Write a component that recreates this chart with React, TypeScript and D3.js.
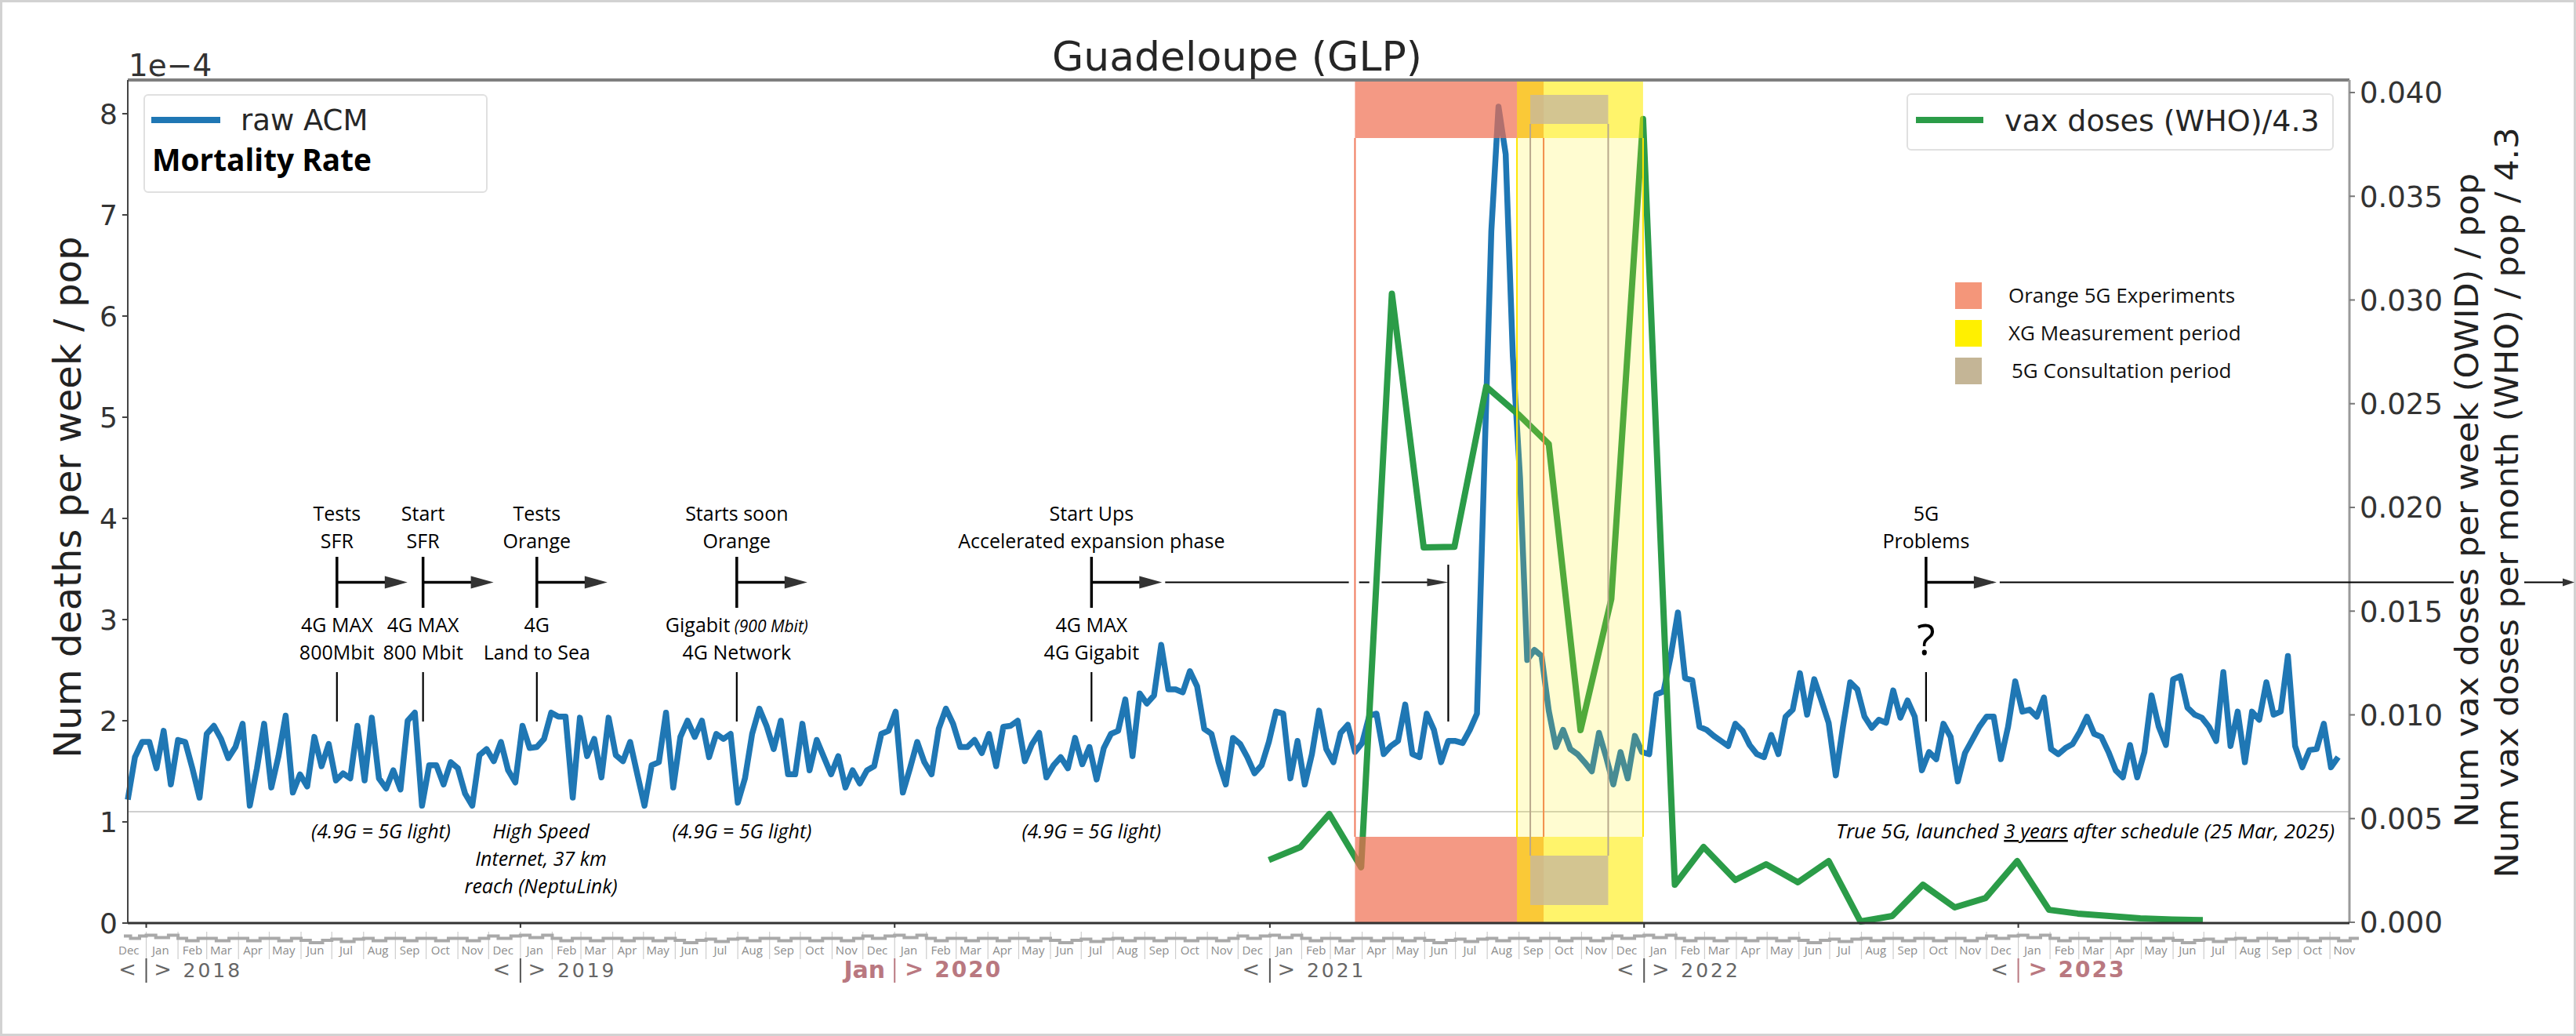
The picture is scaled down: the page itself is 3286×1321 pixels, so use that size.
import React, { useEffect, useRef } from 'react';
import * as d3 from 'd3';

const W = 3286;
const H = 1321;

// weekly all-cause mortality (deaths per week / pop), in units of 1e-4
const acmStart = '2017-12-14';
const acmWeekly = [
  1.22, 1.64, 1.79, 1.79, 1.53, 1.9, 1.37, 1.81, 1.79, 1.53,
  1.24, 1.87, 1.95, 1.82, 1.63, 1.74, 1.97, 1.16, 1.53, 1.97,
  1.34, 1.65, 2.05, 1.29, 1.47, 1.35, 1.84, 1.55, 1.77, 1.41,
  1.48, 1.43, 1.95, 1.41, 2.03, 1.43, 1.33, 1.51, 1.32, 2.0,
  2.08, 1.16, 1.56, 1.56, 1.37, 1.59, 1.53, 1.28, 1.16, 1.66,
  1.72, 1.6, 1.79, 1.51, 1.39, 1.95, 1.73, 1.74, 1.82, 2.08,
  2.04, 2.04, 1.24, 2.03, 1.65, 1.82, 1.44, 2.03, 1.66, 1.6,
  1.79, 1.47, 1.16, 1.56, 1.59, 2.08, 1.34, 1.84, 2.0, 1.84,
  2.0, 1.64,
  1.87, 1.82, 1.87, 1.19, 1.43, 1.87, 2.12, 1.95, 1.72, 2.0,
  1.47, 1.47, 1.97, 1.51, 1.81, 1.64, 1.47, 1.65, 1.34, 1.51,
  1.38, 1.51, 1.55, 1.87, 1.9, 2.09, 1.29, 1.53, 1.79, 1.59,
  1.47, 1.92, 2.12, 1.97, 1.74, 1.74, 1.81, 1.68, 1.87, 1.55,
  1.94, 1.95, 2.0, 1.6, 1.77, 1.88, 1.44, 1.56, 1.64, 1.53,
  1.83, 1.57, 1.74, 1.42, 1.73, 1.87, 1.9, 2.21, 1.65, 2.27,
  2.17, 2.25, 2.75, 2.31, 2.31, 2.28, 2.49, 2.34, 1.92, 1.87,
  1.59, 1.37, 1.83, 1.77, 1.64, 1.48, 1.56, 1.79, 2.09,
  2.07, 1.43, 1.8, 1.37, 1.67, 2.1, 1.72, 1.59, 1.88, 1.96,
  1.69, 1.78, 2.05, 2.07, 1.67, 1.75, 1.8, 2.16, 1.67, 1.64,
  2.07, 1.91, 1.59, 1.8, 1.8, 1.78, 1.91, 2.07, 4.47, 6.84,
  8.07, 7.6, 5.6, 4.4, 2.6, 2.7, 2.64, 2.1, 1.74, 1.91,
  1.72, 1.67, 1.59, 1.5, 1.88, 1.64, 1.37, 1.69, 1.43, 1.85,
  1.69, 1.67, 2.26, 2.29, 2.64, 3.07, 2.42, 2.4, 1.94, 1.91,
  1.85, 1.8,
  1.75, 1.97, 1.9, 1.76, 1.67, 1.64, 1.86, 1.67, 2.04, 2.11,
  2.47, 2.06, 2.41, 2.2, 1.98, 1.46, 1.94, 2.38, 2.31, 2.04,
  1.93, 2.01, 1.98, 2.3, 2.03, 2.2, 2.04, 1.51, 1.69, 1.62,
  1.97, 1.84, 1.4, 1.68, 1.81, 1.94, 2.04, 2.04, 1.62, 1.94,
  2.39, 2.09, 2.11, 2.04, 2.23, 1.72, 1.67, 1.73, 1.77, 1.89,
  2.04, 1.87, 1.84, 1.69, 1.51, 1.44, 1.76, 1.44, 1.69, 2.25,
  1.94, 1.76, 2.41, 2.44, 2.13, 2.06, 2.03, 1.94, 1.8, 2.48,
  1.75, 2.09, 1.59, 2.09, 2.01, 2.38, 2.06, 2.09, 2.64, 1.75,
  1.54, 1.71, 1.72, 1.97, 1.54, 1.64,
];

// monthly vax doses (WHO) / pop / 4.3
const vaxDates = [
  '2020-12-31', '2021-01-31', '2021-02-28', '2021-03-31', '2021-04-30', '2021-05-31',
  '2021-06-30', '2021-07-31', '2021-08-31', '2021-09-30', '2021-10-31', '2021-11-30',
  '2021-12-31', '2022-01-31', '2022-02-28', '2022-03-31', '2022-04-30', '2022-05-31',
  '2022-06-30', '2022-07-31', '2022-08-31', '2022-09-30', '2022-10-31', '2022-11-30',
  '2022-12-31', '2023-01-31', '2023-02-28', '2023-03-31', '2023-04-30', '2023-05-31',
  '2023-06-30',
];
const vaxValues = [
  0.003, 0.00363, 0.00522, 0.00265, 0.0303, 0.01807,
  0.0181, 0.02582, 0.0245, 0.02306, 0.00926, 0.01558,
  0.03872, 0.00181, 0.00363, 0.00204, 0.0028, 0.00193,
  0.00295, 0.00004, 0.0003, 0.00181, 0.00072, 0.00117,
  0.00295, 0.0006, 0.00042, 0.0003, 0.00019, 0.00013,
  0.0001,
];

const bandNames = ['Orange 5G Experiments', 'XG Measurement period', '5G Consultation period'];
const bandStarts = ['2021-03-25', '2021-08-30', '2021-09-12'];
const bandEnds = ['2021-09-25', '2021-12-31', '2021-11-27'];

const leftTicks = [0, 1, 2, 3, 4, 5, 6, 7, 8];
const rightTicks = [0, 0.005, 0.01, 0.015, 0.02, 0.025, 0.03, 0.035, 0.04];

const eventDates = ['2018-07-06', '2018-09-28', '2019-01-17', '2019-07-31', '2020-07-11', '2022-10-03'];
const eventAbove = [
  ['Tests', 'SFR'],
  ['Start', 'SFR'],
  ['Tests', 'Orange'],
  ['Starts soon', 'Orange'],
  ['Start Ups', 'Accelerated expansion phase'],
  ['5G', 'Problems'],
];
const eventBelow = [
  ['4G MAX', '800Mbit'],
  ['4G MAX', '800 Mbit'],
  ['4G', 'Land to Sea'],
  ['Gigabit', '4G Network'],
  ['4G MAX', '4G Gigabit'],
  ['?'],
];
const rampEnd = '2021-06-24';
const rampGaps = [
  ['2021-03-19', '2021-03-29'],
  ['2021-04-08', '2021-04-20'],
];

const noteDates = ['2018-08-18', '2019-01-21', '2019-08-05', '2020-07-11'];
const noteLines = [
  ['(4.9G = 5G light)'],
  ['High Speed', 'Internet, 37 km', 'reach (NeptuLink)'],
  ['(4.9G = 5G light)'],
  ['(4.9G = 5G light)'],
];

const years = [2018, 2019, 2020, 2021, 2022, 2023];
const seasonShift = [-4, 0, 0, 0, 0, 2.5, 1, 0, 0, 0, 0, -3];

export default function App() {
  const svgRef = useRef<SVGSVGElement>(null);

  useEffect(() => {
    document.body.style.margin = '0';
    if (!svgRef.current) return;
    const svg = d3.select(svgRef.current);
    svg.selectAll('*').remove();

    const parse = d3.timeParse('%Y-%m-%d');
    const left = 163;
    const right = 2997;
    const top = 102;
    const bottom = 1177;

    const x = d3
      .scaleTime()
      .domain([parse('2017-12-14') as Date, parse('2023-11-20') as Date])
      .range([left, right]);
    const yL = d3.scaleLinear().domain([0, 8]).range([1177, 145]);
    const yR = d3.scaleLinear().domain([0, 0.04]).range([1176, 118]);
    const xd = (s: string) => x(parse(s) as Date);

    const sans = "'Open Sans', 'Noto Sans', sans-serif";
    const dv = "'DejaVu Sans', sans-serif";

    // outer frame
    svg.append('rect').attr('x', 1.5).attr('y', 1.5).attr('width', W - 3).attr('height', H - 3)
      .attr('fill', '#fff').attr('stroke', '#d2d2d2').attr('stroke-width', 3);

    // light reference line
    svg.append('line').attr('x1', left).attr('x2', right).attr('y1', yL(1.1)).attr('y2', yL(1.1))
      .attr('stroke', '#cfcfcf').attr('stroke-width', 2);

    // ACM line
    const start = parse(acmStart) as Date;
    const acm = acmWeekly.map((v, i) => ({ d: d3.timeDay.offset(start, 7 * i), v }));
    svg.append('path')
      .attr('d', d3.line<{ d: Date; v: number }>().x((p) => x(p.d)).y((p) => yL(p.v))(acm))
      .attr('fill', 'none').attr('stroke', '#1f77b4').attr('stroke-width', 7.5)
      .attr('stroke-linejoin', 'round');

    // vax line
    const vax = vaxDates.map((d, i) => ({ d: parse(d) as Date, v: vaxValues[i] }));
    svg.append('path')
      .attr('d', d3.line<{ d: Date; v: number }>().x((p) => x(p.d)).y((p) => yR(p.v))(vax))
      .attr('fill', 'none').attr('stroke', '#2b9c48').attr('stroke-width', 8)
      .attr('stroke-linejoin', 'round');

    // period bands (strips at top and bottom, outlined in between)
    const bandFill = ['rgb(240,110,80)', 'rgb(255,236,0)', 'rgb(200,185,155)'];
    const bandOpacity = [0.7, 0.58, 0.8];
    const bandMid = [0, 0.18, 0];
    const bandEdge = ['#f07a5c', '#ffe600', '#b9a88c'];
    const stripTop = [[102, 176], [102, 176], [121, 158]];
    const stripBot = [[1067, 1177], [1067, 1177], [1091, 1154]];
    bandNames.forEach((_, i) => {
      const x0 = xd(bandStarts[i]);
      const x1 = xd(bandEnds[i]);
      [stripTop[i], stripBot[i]].forEach(([a, b]) => {
        svg.append('rect').attr('x', x0).attr('y', a).attr('width', x1 - x0).attr('height', b - a)
          .attr('fill', bandFill[i]).attr('opacity', bandOpacity[i]);
      });
      if (bandMid[i] > 0) {
        svg.append('rect').attr('x', x0).attr('y', stripTop[i][1]).attr('width', x1 - x0)
          .attr('height', stripBot[i][0] - stripTop[i][1])
          .attr('fill', bandFill[i]).attr('opacity', bandMid[i]);
      }
      [x0, x1].forEach((xx) => {
        svg.append('line').attr('x1', xx).attr('x2', xx).attr('y1', stripTop[i][1]).attr('y2', stripBot[i][0])
          .attr('stroke', bandEdge[i]).attr('stroke-width', 2);
      });
    });

    // spines
    svg.append('line').attr('x1', left).attr('x2', right).attr('y1', top).attr('y2', top)
      .attr('stroke', '#7f7f7f').attr('stroke-width', 4);
    svg.append('line').attr('x1', left).attr('x2', left).attr('y1', top).attr('y2', bottom)
      .attr('stroke', '#444').attr('stroke-width', 2);
    svg.append('line').attr('x1', right).attr('x2', right).attr('y1', top).attr('y2', bottom)
      .attr('stroke', '#9a9a9a').attr('stroke-width', 3);
    svg.append('line').attr('x1', left).attr('x2', right).attr('y1', bottom).attr('y2', bottom)
      .attr('stroke', '#333').attr('stroke-width', 3);

    // left axis
    leftTicks.forEach((t) => {
      svg.append('line').attr('x1', left - 7).attr('x2', left).attr('y1', yL(t)).attr('y2', yL(t))
        .attr('stroke', '#444').attr('stroke-width', 2);
      svg.append('text').attr('x', 150).attr('y', yL(t)).attr('dy', '0.36em').attr('text-anchor', 'end')
        .style('font-family', dv).style('font-size', '36px').attr('fill', '#333').text(String(t));
    });
    svg.append('text').attr('x', 164).attr('y', 97).style('font-family', dv).style('font-size', '39px')
      .attr('fill', '#333').text('1e\u22124');
    svg.append('text').attr('transform', 'translate(103,634) rotate(-90)').attr('text-anchor', 'middle')
      .style('font-family', dv).style('font-size', '48px').attr('fill', '#222')
      .text('Num deaths per week / pop');

    // right axis
    rightTicks.forEach((t) => {
      svg.append('line').attr('x1', right).attr('x2', right + 7).attr('y1', yR(t)).attr('y2', yR(t))
        .attr('stroke', '#777').attr('stroke-width', 2);
      svg.append('text').attr('x', 3010).attr('y', yR(t)).attr('dy', '0.36em')
        .style('font-family', dv).style('font-size', '37px').attr('fill', '#333').text(d3.format('.3f')(t));
    });
    const rightTitles = ['Num vax doses per week (OWID) / pop', 'Num vax doses per month (WHO) / pop / 4.3'];
    const rightTitleX = [3161, 3212];
    const rightTitleY = [638, 641];
    const rightTitleLen = [834, 957];
    rightTitles.forEach((t, i) => {
      svg.append('text').attr('transform', `translate(${rightTitleX[i]},${rightTitleY[i]}) rotate(-90)`)
        .attr('text-anchor', 'middle').attr('textLength', rightTitleLen[i]).attr('lengthAdjust', 'spacingAndGlyphs')
        .style('font-family', dv).style('font-size', '41px').attr('fill', '#222').text(t);
    });

    // title
    svg.append('text').attr('x', 1578).attr('y', 90).attr('text-anchor', 'middle')
      .style('font-family', dv).style('font-size', '52px').attr('fill', '#262626').text('Guadeloupe (GLP)');

    // bottom calendar ruler
    const months = d3.timeMonth.range(new Date(2017, 11, 1), new Date(2023, 11, 1));
    let ruler = '';
    months.forEach((m, i) => {
      const a = Math.max(x(m), left - 5);
      const b = Math.min(x(d3.timeMonth.offset(m, 1)), right + 12);
      const lv = 1196.5 + seasonShift[m.getMonth()];
      const q1 = a + (b - a) * 0.3;
      const q2 = a + (b - a) * 0.7;
      ruler += `${i === 0 ? 'M' : 'L'}${a},${lv}H${q1}V${lv + 3}H${q2}V${lv}H${b}`;
      const mid = x(d3.timeDay.offset(m, 14));
      svg.append('text').attr('x', mid).attr('y', 1217).attr('text-anchor', 'middle')
        .style('font-family', sans).style('font-size', '15px').attr('fill', '#8c8c8c')
        .text(d3.timeFormat('%b')(m));
      if (x(m) > left && x(m) < right + 5) {
        svg.append('line').attr('x1', x(m)).attr('x2', x(m)).attr('y1', 1188).attr('y2', 1223)
          .attr('stroke', '#cdcdcd').attr('stroke-width', 1.2);
      }
    });
    svg.append('path').attr('d', ruler).attr('fill', 'none').attr('stroke', '#a9a9a9').attr('stroke-width', 4);

    const rose = '#b97880';
    years.forEach((yr) => {
      const sx = x(new Date(yr, 0, 1));
      const hot = yr === 2020 || yr === 2023;
      svg.append('line').attr('x1', sx).attr('x2', sx).attr('y1', bottom).attr('y2', bottom + 6)
        .attr('stroke', '#333').attr('stroke-width', 2);
      svg.append('line').attr('x1', sx).attr('x2', sx).attr('y1', 1222).attr('y2', 1253)
        .attr('stroke', hot ? rose : '#555').attr('stroke-width', 2);
      if (yr === 2020) {
        svg.append('text').attr('x', sx - 12).attr('y', 1247).attr('text-anchor', 'end')
          .style('font-family', dv).style('font-size', '30px').style('font-weight', 'bold')
          .attr('fill', rose).text('Jan');
      } else {
        svg.append('text').attr('x', sx - 24).attr('y', 1245).attr('text-anchor', 'middle')
          .style('font-family', dv).style('font-size', '27px').attr('fill', '#666').text('<');
      }
      svg.append('text').attr('x', sx + (hot ? 25 : 21)).attr('y', 1245).attr('text-anchor', 'middle')
        .style('font-family', dv).style('font-size', hot ? '29px' : '27px')
        .style('font-weight', hot ? 'bold' : 'normal').attr('fill', hot ? rose : '#666').text('>');
      svg.append('text').attr('x', sx + (hot ? 51 : 47)).attr('y', 1246)
        .style('font-family', dv).style('font-size', hot ? '28px' : '25px')
        .style('font-weight', hot ? 'bold' : 'normal').style('letter-spacing', hot ? '2px' : '3px')
        .attr('fill', hot ? rose : '#666').text(String(yr));
    });

    // legends
    svg.append('rect').attr('x', 184).attr('y', 121).attr('width', 437).attr('height', 124).attr('rx', 5)
      .attr('fill', 'rgba(255,255,255,0.85)').attr('stroke', '#e0e0e0').attr('stroke-width', 2);
    svg.append('line').attr('x1', 193).attr('x2', 281).attr('y1', 153).attr('y2', 153)
      .attr('stroke', '#1f77b4').attr('stroke-width', 8);
    svg.append('text').attr('x', 307).attr('y', 166).style('font-family', dv).style('font-size', '37px')
      .attr('fill', '#262626').text('raw ACM');
    svg.append('text').attr('x', 194).attr('y', 218).attr('textLength', 280).attr('lengthAdjust', 'spacingAndGlyphs')
      .style('font-family', sans).style('font-size', '40px').style('font-weight', 'bold')
      .attr('fill', '#000').text('Mortality Rate');

    svg.append('rect').attr('x', 2433).attr('y', 120).attr('width', 543).attr('height', 71).attr('rx', 5)
      .attr('fill', 'rgba(255,255,255,0.85)').attr('stroke', '#e0e0e0').attr('stroke-width', 2);
    svg.append('line').attr('x1', 2444).attr('x2', 2530).attr('y1', 153).attr('y2', 153)
      .attr('stroke', '#2b9c48').attr('stroke-width', 8);
    svg.append('text').attr('x', 2557).attr('y', 167).style('font-family', dv).style('font-size', '38px')
      .attr('fill', '#262626').text('vax doses (WHO)/4.3');

    const swatch = ['#f4967a', '#fff000', '#c4b596'];
    bandNames.forEach((n, i) => {
      const cy = 377 + 48 * i;
      svg.append('rect').attr('x', 2494).attr('y', cy - 17).attr('width', 34).attr('height', 34).attr('fill', swatch[i]);
      svg.append('text').attr('x', i === 2 ? 2566 : 2562).attr('y', cy + 9).style('font-family', sans)
        .style('font-size', '26px').attr('fill', '#111').text(n);
    });

    // event annotations
    const head = (xTip: number, yy: number, len: number, half: number) =>
      svg.append('path').attr('d', `M${xTip - len},${yy - half}L${xTip},${yy}L${xTip - len},${yy + half}Z`)
        .attr('fill', '#333');
    const ay = 742.5;
    eventDates.forEach((ds, i) => {
      const ex = xd(ds);
      eventAbove[i].forEach((t, j) => {
        svg.append('text').attr('x', ex).attr('y', 664 + 35 * j).attr('text-anchor', 'middle')
          .style('font-family', sans).style('font-size', '25px').attr('fill', '#000').text(t);
      });
      svg.append('line').attr('x1', ex).attr('x2', ex).attr('y1', 710).attr('y2', 775)
        .attr('stroke', '#000').attr('stroke-width', 3.5);
      svg.append('line').attr('x1', ex).attr('x2', ex + 63).attr('y1', ay).attr('y2', ay)
        .attr('stroke', '#000').attr('stroke-width', 3.5);
      head(ex + 90, ay, 29, 8);
      const below = eventBelow[i];
      below.forEach((t, j) => {
        const tx = svg.append('text').attr('x', ex).attr('text-anchor', 'middle')
          .style('font-family', sans).attr('fill', '#000');
        if (t === '?') {
          tx.attr('y', 835).style('font-size', '54px').text(t);
        } else {
          tx.attr('y', 806 + 35 * j).style('font-size', '25px').text(t);
          if (i === 3 && j === 0) {
            tx.append('tspan').style('font-style', 'italic').style('font-size', '21px').text(' (900 Mbit)');
          }
        }
      });
      svg.append('line').attr('x1', ex).attr('x2', ex).attr('y1', 857).attr('y2', 920)
        .attr('stroke', '#000').attr('stroke-width', 2.2);
    });

    // long arrows
    const thin = (a: number, b: number) =>
      svg.append('line').attr('x1', a).attr('x2', b).attr('y1', ay).attr('y2', ay)
        .attr('stroke', '#000').attr('stroke-width', 2);
    const e5 = xd(eventDates[4]);
    const endX = xd(rampEnd);
    const cuts = [e5 + 94, ...rampGaps.flatMap(([a, b]) => [xd(a), xd(b)]), endX - 26];
    for (let k = 0; k < cuts.length; k += 2) thin(cuts[k], cuts[k + 1]);
    head(endX, ay, 27, 5);
    svg.append('line').attr('x1', endX).attr('x2', endX).attr('y1', 720).attr('y2', 920)
      .attr('stroke', '#000').attr('stroke-width', 2.2);
    const e6 = xd(eventDates[5]);
    thin(e6 + 94, 3130);
    thin(3220, 3271);
    head(3284, ay, 15, 5);

    // notes below the reference line
    noteDates.forEach((ds, i) => {
      const nx = xd(ds);
      noteLines[i].forEach((t, j) => {
        svg.append('text').attr('x', nx).attr('y', 1069 + 35 * j).attr('text-anchor', 'middle')
          .style('font-family', sans).style('font-size', '25px').style('font-style', 'italic')
          .attr('fill', '#000').text(t);
      });
    });
    const late = svg.append('text').attr('x', 2978).attr('y', 1069).attr('text-anchor', 'end')
      .attr('textLength', 636).attr('lengthAdjust', 'spacingAndGlyphs')
      .style('font-family', sans).style('font-size', '25px').style('font-style', 'italic').attr('fill', '#000');
    late.append('tspan').text('True 5G, launched ');
    late.append('tspan').style('text-decoration', 'underline').text('3 years');
    late.append('tspan').text(' after schedule  (25 Mar, 2025)');
  }, []);

  return <svg ref={svgRef} width={W} height={H} style={{ display: 'block' }} />;
}
